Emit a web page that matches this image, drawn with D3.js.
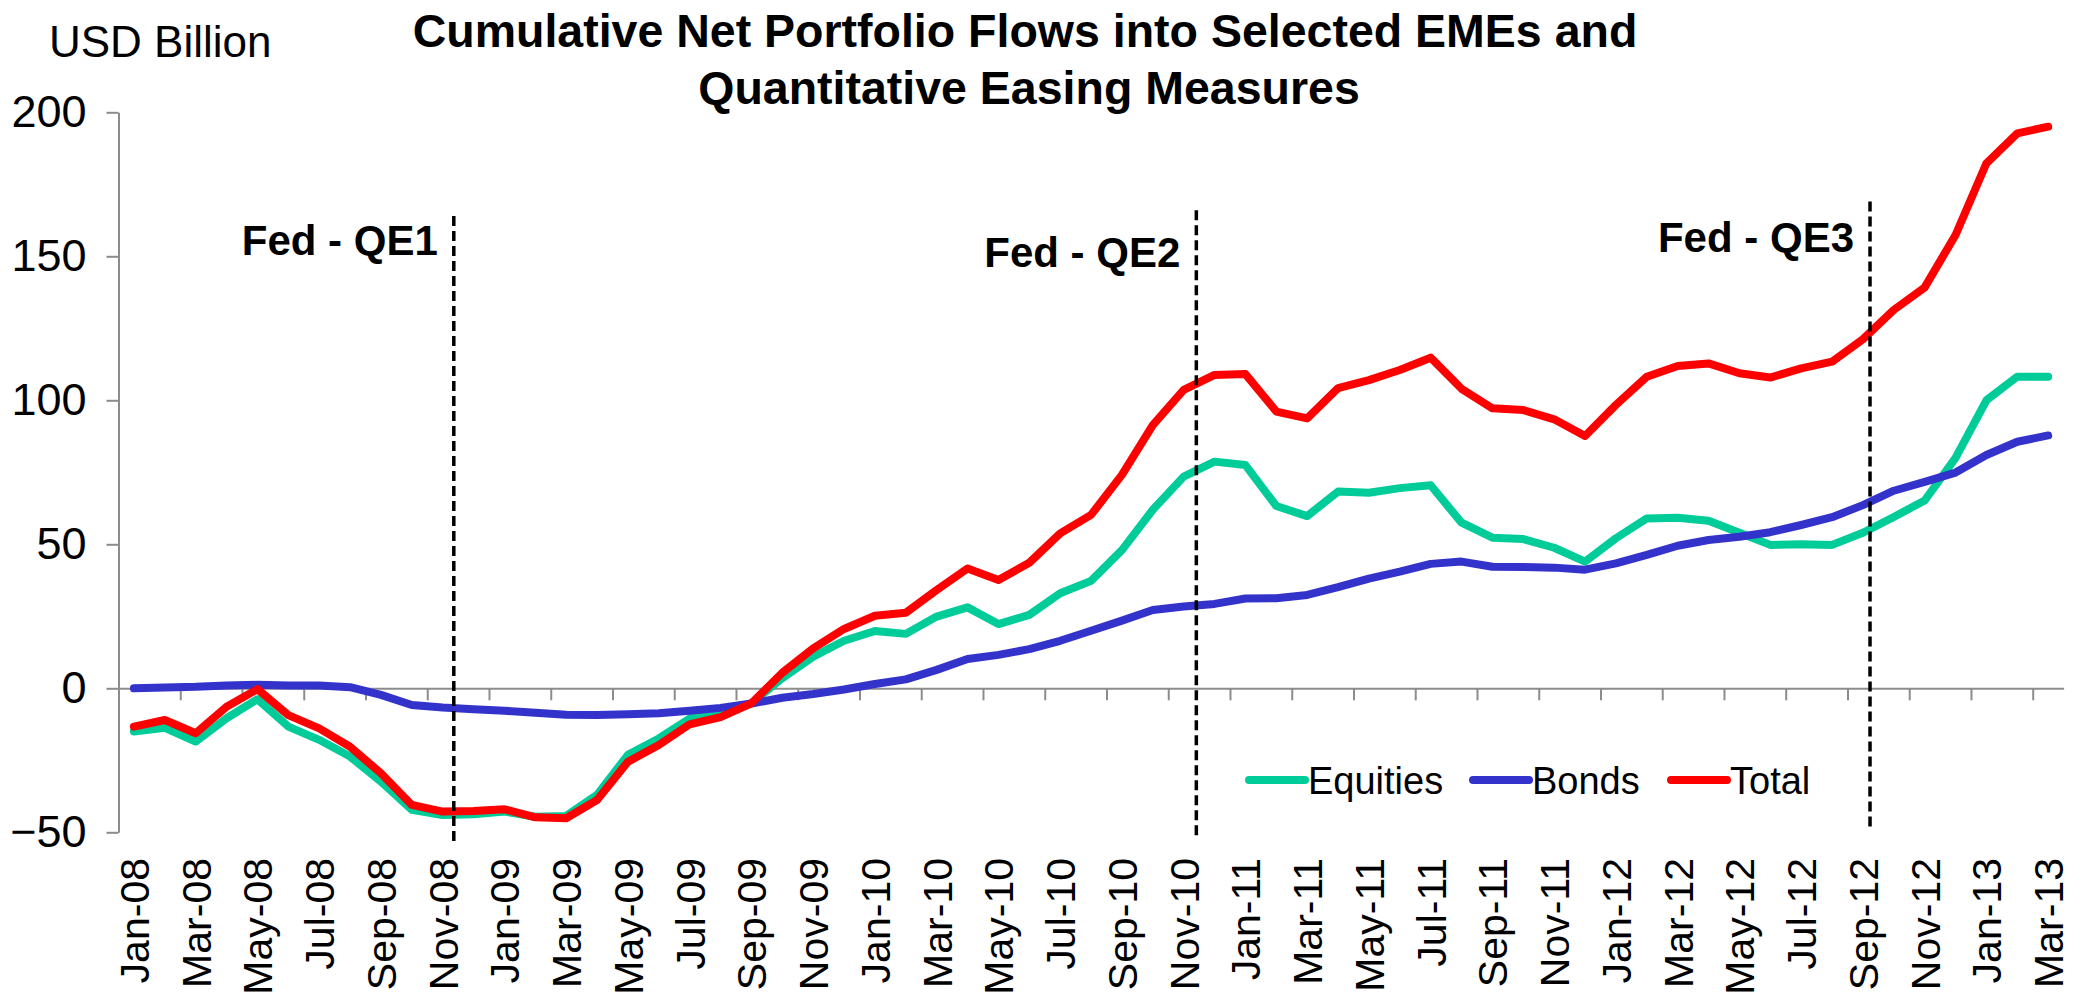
<!DOCTYPE html>
<html>
<head>
<meta charset="utf-8">
<script src="https://cdn.jsdelivr.net/npm/d3@7"></script>
<style>
  body { margin: 0; background: #fff; }
  text { font-family: "Liberation Sans", Arial, sans-serif; fill: #000; }
</style>
</head>
<body>
<script>
// categories (monthly)
var months = [
  "Jan-08", "Feb-08", "Mar-08", "Apr-08", "May-08", "Jun-08", "Jul-08", "Aug-08", "Sep-08", "Oct-08", "Nov-08", "Dec-08",
  "Jan-09", "Feb-09", "Mar-09", "Apr-09", "May-09", "Jun-09", "Jul-09", "Aug-09", "Sep-09", "Oct-09", "Nov-09", "Dec-09",
  "Jan-10", "Feb-10", "Mar-10", "Apr-10", "May-10", "Jun-10", "Jul-10", "Aug-10", "Sep-10", "Oct-10", "Nov-10", "Dec-10",
  "Jan-11", "Feb-11", "Mar-11", "Apr-11", "May-11", "Jun-11", "Jul-11", "Aug-11", "Sep-11", "Oct-11", "Nov-11", "Dec-11",
  "Jan-12", "Feb-12", "Mar-12", "Apr-12", "May-12", "Jun-12", "Jul-12", "Aug-12", "Sep-12", "Oct-12", "Nov-12", "Dec-12",
  "Jan-13", "Feb-13", "Mar-13"
];

// series values, USD billion
var equities = [
  -15, -13.7, -18.5, -10.4, -3.8, -13.3, -17.9, -23.7, -32.4, -42.2, -44, -43.7,
  -42.8, -44.6, -44.3, -37, -23.1, -17.4, -10.5, -8.5, -5.2, 3.5, 11, 16.5,
  19.9, 18.9, 24.9, 28.1, 22.3, 25.5, 33, 37.3, 48, 62, 73.5, 78.7,
  77.5, 63.3, 59.8, 68.3, 67.9, 69.5, 70.5, 57.5, 52.3, 51.8, 48.8, 44,
  52.1, 59, 59.2, 58.2, 54, 49.8, 50, 49.8, 54, 59.5, 65.2, 80,
  100, 108.2, 108.2
];
var bonds = [
  0, 0.3, 0.5, 1, 1.2, 1, 1, 0.4, -2.3, -5.8, -6.7, -7.3,
  -7.8, -8.5, -9.2, -9.3, -9, -8.7, -7.8, -6.8, -5.3, -3.3, -2, -0.4,
  1.5, 3.1, 6.4, 10.2, 11.6, 13.6, 16.5, 20, 23.5, 27.2, 28.4, 29.3,
  31.2, 31.3, 32.4, 35.1, 38.1, 40.5, 43.2, 44, 42.2, 42.1, 41.9, 41.2,
  43.4, 46.3, 49.5, 51.5, 52.6, 54.2, 56.7, 59.4, 63.6, 68.6, 71.7, 74.9,
  81, 85.6, 87.8
];
var total = [
  -13.3, -11, -15.6, -6.4, -0.3, -9.3, -13.9, -20.3, -29.5, -40.5, -42.8, -42.6,
  -42, -44.8, -45.1, -38.8, -25.5, -19.7, -12.5, -10, -5.2, 5.4, 13.9, 20.6,
  25.2, 26.2, 34.1, 41.6, 37.6, 43.6, 53.8, 60.2, 74.1, 91.4, 103.6, 108.8,
  109.1, 96.1, 93.7, 104.2, 107, 110.5, 114.8, 104, 97.2, 96.6, 93.4, 87.6,
  98.4, 108.2, 111.9, 112.8, 109.4, 107.9, 111.1, 113.4, 121.2, 131.4, 139.2, 157.4,
  182.3, 192.7, 195
];

var yTicks = [-50, 0, 50, 100, 150, 200];
var seriesNames = ["Equities", "Bonds", "Total"];

// QE announcement markers (month index, value range, label height)
var qeLabels = ["Fed - QE1", "Fed - QE2", "Fed - QE3"];
var qeMonth = [10.36, 34.41, 56.23];
var qeTop = [164, 166, 169];
var qeBottom = [-54, -51, -49];
var qeLabelY = [150.4, 146.4, 151.6];

var width = 2084,
  height = 997,
  plotLeft = 118.5,
  plotRight = 2063.6,
  plotTop = 112.3,
  plotBottom = 832.3,
  colors = ["#00cc99", "#3333cc", "#ff0000"],
  axisColor = "#8c8c8c";

var svg = d3.select("body")
  .append("svg")
  .attr("width", width)
  .attr("height", height);

var x = d3.scaleBand()
  .domain(months)
  .range([plotLeft, plotRight]);

// same axis as x, but in month index units (for boundaries / markers)
var xIdx = d3.scaleLinear()
  .domain([-0.5, months.length - 0.5])
  .range([plotLeft, plotRight]);

var y = d3.scaleLinear()
  .domain([-50, 200])
  .range([plotBottom, plotTop]);

//----------Y axis----------
var yAxis = d3.axisLeft(y)
  .tickValues(yTicks)
  .tickSize(12)
  .tickSizeOuter(0)
  .tickPadding(20);

var gy = svg.append("g")
  .attr("transform", "translate(" + plotLeft + ",0)")
  .call(yAxis);
gy.selectAll("path, line").attr("stroke", axisColor).attr("stroke-width", 2);
gy.selectAll("text")
  .style("font-size", "45px")
  .style("font-family", "'Liberation Sans', Arial, sans-serif");

//----------X axis----------
var xAxis = d3.axisBottom(xIdx)
  .tickValues(d3.range(-0.5, months.length - 1, 2))
  .tickSize(12)
  .tickSizeOuter(0)
  .tickFormat("");

var gx = svg.append("g")
  .attr("transform", "translate(0," + y(0) + ")")
  .call(xAxis);
gx.selectAll("path, line").attr("stroke", axisColor).attr("stroke-width", 2);

svg.selectAll(".xlabel")
  .data(months.filter(function (d, i) {
    return i % 2 === 0;
  }))
  .enter()
  .append("text")
  .attr("class", "xlabel")
  .attr("transform", function (d) {
    return "translate(" + (x(d) + x.bandwidth() / 2 + 15) + ",858) rotate(-90)";
  })
  .attr("text-anchor", "end")
  .style("font-size", "41px")
  .text(function (d) {
    return d;
  });

svg.append("text")
  .attr("x", 49)
  .attr("y", 57)
  .style("font-size", "44px")
  .text("USD Billion");

//----------Lines----------
var line = d3.line()
  .x(function (d, i) {
    return x(months[i]) + x.bandwidth() / 2;
  })
  .y(function (d) {
    return y(d);
  });

[equities, bonds, total].forEach(function (s, k) {
  svg.append("path")
    .datum(s)
    .attr("d", line)
    .attr("fill", "none")
    .attr("stroke", colors[k])
    .attr("stroke-width", 8)
    .attr("stroke-linejoin", "round")
    .attr("stroke-linecap", "round");
});

//----------QE markers----------
qeLabels.forEach(function (lab, k) {
  svg.append("line")
    .attr("x1", xIdx(qeMonth[k]))
    .attr("x2", xIdx(qeMonth[k]))
    .attr("y1", y(qeTop[k]))
    .attr("y2", y(qeBottom[k]))
    .attr("stroke", "#000")
    .attr("stroke-width", 3.5)
    .attr("stroke-dasharray", "10,5");

  svg.append("text")
    .attr("x", xIdx(qeMonth[k]) - 16)
    .attr("y", y(qeLabelY[k]))
    .attr("text-anchor", "end")
    .style("font-size", "42px")
    .style("font-weight", "bold")
    .text(lab);
});

//----------Legend----------
var legendX = [1249, 1473, 1671];
seriesNames.forEach(function (name, k) {
  var g = svg.append("g")
    .attr("transform", "translate(" + legendX[k] + ",780)");
  g.append("line")
    .attr("x1", 0)
    .attr("x2", 56)
    .attr("stroke", colors[k])
    .attr("stroke-width", 8)
    .attr("stroke-linecap", "round");
  g.append("text")
    .attr("x", 59)
    .attr("dy", "0.36em")
    .style("font-size", "38px")
    .text(name);
});

//----------Title----------
svg.append("text")
  .attr("x", 1025)
  .attr("y", 47)
  .attr("text-anchor", "middle")
  .style("font-size", "46.5px")
  .style("font-weight", "bold")
  .text("Cumulative Net Portfolio Flows into Selected EMEs and");

svg.append("text")
  .attr("x", 1029)
  .attr("y", 104)
  .attr("text-anchor", "middle")
  .style("font-size", "46.5px")
  .style("font-weight", "bold")
  .text("Quantitative Easing Measures");
</script>
</body>
</html>
